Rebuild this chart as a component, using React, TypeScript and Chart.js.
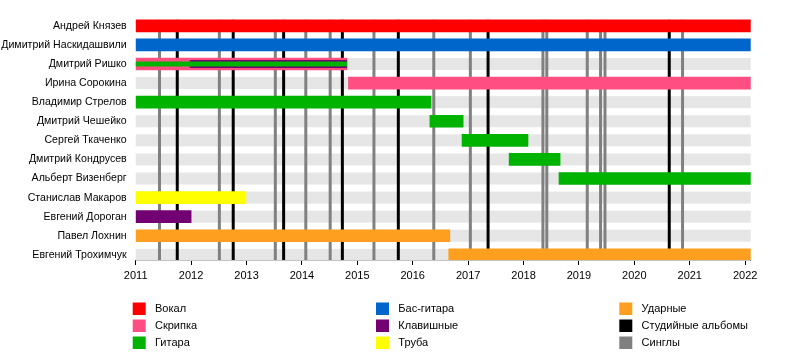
import React, { useEffect, useRef } from "react";
import { Chart, registerables } from "chart.js";

Chart.register(...registerables);

const END = 2022.1;
const START = 2011;

const members = [
  "Андрей Князев",
  "Димитрий Наскидашвили",
  "Дмитрий Ришко",
  "Ирина Сорокина",
  "Владимир Стрелов",
  "Дмитрий Чешейко",
  "Сергей Ткаченко",
  "Дмитрий Кондрусев",
  "Альберт Визенберг",
  "Станислав Макаров",
  "Евгений Дороган",
  "Павел Лохнин",
  "Евгений Трохимчук",
];

const yearTicks = [2011, 2012, 2013, 2014, 2015, 2016, 2017, 2018, 2019, 2020, 2021, 2022];

// [member, start, end]
const vocalSpans: [string, number, number][] = [["Андрей Князев", 2011, END]];
const bassSpans: [string, number, number][] = [["Димитрий Наскидашвили", 2011, END]];
const violinSpans: [string, number, number][] = [
  ["Дмитрий Ришко", 2011, 2014.81],
  ["Ирина Сорокина", 2014.84, END],
];
const guitarSpans: [string, number, number][] = [
  ["Владимир Стрелов", 2011, 2016.33],
  ["Дмитрий Чешейко", 2016.31, 2016.91],
  ["Сергей Ткаченко", 2016.89, 2018.08],
  ["Дмитрий Кондрусев", 2017.74, 2018.66],
  ["Альберт Визенберг", 2018.64, END],
];
const trumpetSpans: [string, number, number][] = [["Станислав Макаров", 2011, 2012.99]];
const keysSpans: [string, number, number][] = [["Евгений Дороган", 2011, 2012.0]];
const drumsSpans: [string, number, number][] = [
  ["Павел Лохнин", 2011, 2016.67],
  ["Евгений Трохимчук", 2016.65, END],
];
// secondary (thinner) bars
const secondaryKeysSpans: [string, number, number][] = [["Дмитрий Ришко", 2011.98, 2014.81]];
const secondaryGuitarSpans: [string, number, number][] = [["Дмитрий Ришко", 2011, 2014.81]];

const studioAlbums = [2011.75, 2012.76, 2013.67, 2014.73, 2015.74, 2017.36, 2020.63];
const singles = [
  2011.43, 2012.51, 2013.52, 2014.07, 2014.51, 2015.3, 2016.38, 2017.04, 2018.35, 2018.42,
  2019.15, 2019.39, 2019.47, 2020.87,
];

const legendLabels = [
  "Вокал", "Скрипка", "Гитара",
  "Бас-гитара", "Клавишные", "Труба",
  "Ударные", "Студийные альбомы", "Синглы",
];
const legendColors = [
  "#ff0000", "#ff4f82", "#00b300",
  "#0066cc", "#730073", "#ffff00",
  "#ff9f20", "#000000", "#808080",
];

const C = {
  vocal: "#ff0000",
  bass: "#0066cc",
  violin: "#ff4f82",
  guitar: "#00b300",
  trumpet: "#ffff00",
  keys: "#730073",
  drums: "#ff9f20",
  album: "#000000",
  single: "#808080",
  band: "#e6e6e6",
};

const FONT = "'Liberation Sans', Arial, sans-serif";

const toPoints = (spans: [string, number, number][]) =>
  spans.map(([m, s, e]) => ({ y: members.indexOf(m), x: [s, e] }));

export default function App() {
  const ref = useRef<HTMLCanvasElement | null>(null);

  useEffect(() => {
    if (!ref.current) return;

    const backgroundPlugin = {
      id: "bgLines",
      beforeDatasetsDraw(chart: any) {
        const { ctx, chartArea, scales } = chart;
        const xs = scales.x;
        const ys = scales.y;
        ctx.save();
        ctx.fillStyle = C.band;
        members.forEach((_, i) => {
          const y = ys.getPixelForValue(i);
          ctx.fillRect(xs.getPixelForValue(START), y - 6, xs.getPixelForValue(END) - xs.getPixelForValue(START), 12);
        });
        const top = ys.getPixelForValue(0) - 6;
        const bottom = chartArea.bottom;
        ctx.lineWidth = 3;
        ctx.strokeStyle = C.single;
        singles.forEach((d) => {
          const x = xs.getPixelForValue(d);
          ctx.beginPath();
          ctx.moveTo(x, top);
          ctx.lineTo(x, bottom);
          ctx.stroke();
        });
        ctx.strokeStyle = C.album;
        studioAlbums.forEach((d) => {
          const x = xs.getPixelForValue(d);
          ctx.beginPath();
          ctx.moveTo(x, top);
          ctx.lineTo(x, bottom);
          ctx.stroke();
        });
        ctx.restore();
      },
    };

    const legendPlugin = {
      id: "customLegend",
      afterDraw(chart: any) {
        const { ctx } = chart;
        const colX = [132.7, 376, 619.3];
        const rowY = [302.5, 319.5, 336.5];
        ctx.save();
        ctx.font = `11px ${FONT}`;
        ctx.textBaseline = "middle";
        ctx.textAlign = "left";
        legendLabels.forEach((label, i) => {
          const col = Math.floor(i / 3);
          const row = i % 3;
          const x = colX[col];
          const y = rowY[row];
          ctx.fillStyle = legendColors[i];
          ctx.fillRect(x, y, 13, 12.5);
          ctx.fillStyle = "#000";
          ctx.fillText(label, x + 22.3, y + 6.5);
        });
        ctx.restore();
      },
    };

    const mk = (data: any[], color: string, thickness: number, order: number) => ({
      data,
      backgroundColor: color,
      borderWidth: 0,
      barThickness: thickness,
      grouped: false,
      order,
    });

    const chart = new Chart(ref.current, {
      type: "bar",
      data: {
        datasets: [
          mk(toPoints(secondaryGuitarSpans), C.guitar, 4.5, 0),
          mk(toPoints(secondaryKeysSpans), C.keys, 7.5, 1),
          mk(toPoints(vocalSpans), C.vocal, 12, 2),
          mk(toPoints(bassSpans), C.bass, 12, 2),
          mk(toPoints(violinSpans), C.violin, 12, 2),
          mk(toPoints(guitarSpans), C.guitar, 12, 2),
          mk(toPoints(trumpetSpans), C.trumpet, 12, 2),
          mk(toPoints(keysSpans), C.keys, 12, 2),
          mk(toPoints(drumsSpans), C.drums, 12, 2),
        ] as any,
      },
      options: {
        indexAxis: "y",
        responsive: false,
        animation: false,
        events: [],
        layout: { padding: { top: 16.3, right: 49.3, left: 0, bottom: 0 } },
        plugins: {
          legend: { display: false },
          tooltip: { enabled: false },
        },
        scales: {
          x: {
            type: "linear",
            bounds: "data",
            min: START,
            max: END,
            afterBuildTicks: (scale: any) => {
              scale.ticks = yearTicks.map((v) => ({ value: v }));
            },
            afterFit: (scale: any) => {
              scale.height = 100;
              scale.paddingLeft = 0;
              scale.paddingRight = 0;
            },
            grid: {
              display: true,
              drawOnChartArea: false,
              drawTicks: true,
              tickLength: 5,
              color: "#000",
              lineWidth: 1,
            },
            border: { display: true, color: "#000", width: 1 },
            ticks: {
              color: "#000",
              font: { family: FONT, size: 11 },
              padding: 4,
              maxRotation: 0,
              autoSkip: false,
              callback: (v: any) => String(v),
            },
          },
          y: {
            type: "linear",
            bounds: "data",
            offset: false,
            reverse: true,
            min: -0.5,
            max: 12.27,
            afterBuildTicks: (scale: any) => {
              scale.ticks = members.map((_, i) => ({ value: i }));
            },
            afterFit: (scale: any) => {
              scale.width = 135.7;
              scale.paddingTop = 0;
              scale.paddingBottom = 0;
            },
            grid: { display: false, drawTicks: false, offset: false },
            border: { display: false },
            ticks: {
              color: "#000",
              font: { family: FONT, size: 10.6 },
              padding: 9,
              autoSkip: false,
              callback: (v: any) => members[v] ?? "",
            },
          },
        },
      } as any,
      plugins: [backgroundPlugin, legendPlugin],
    });

    return () => chart.destroy();
  }, []);

  return (
    <canvas
      ref={ref}
      width={800}
      height={360}
      style={{ position: "absolute", left: 0, top: 0, width: 800, height: 360 }}
    />
  );
}
